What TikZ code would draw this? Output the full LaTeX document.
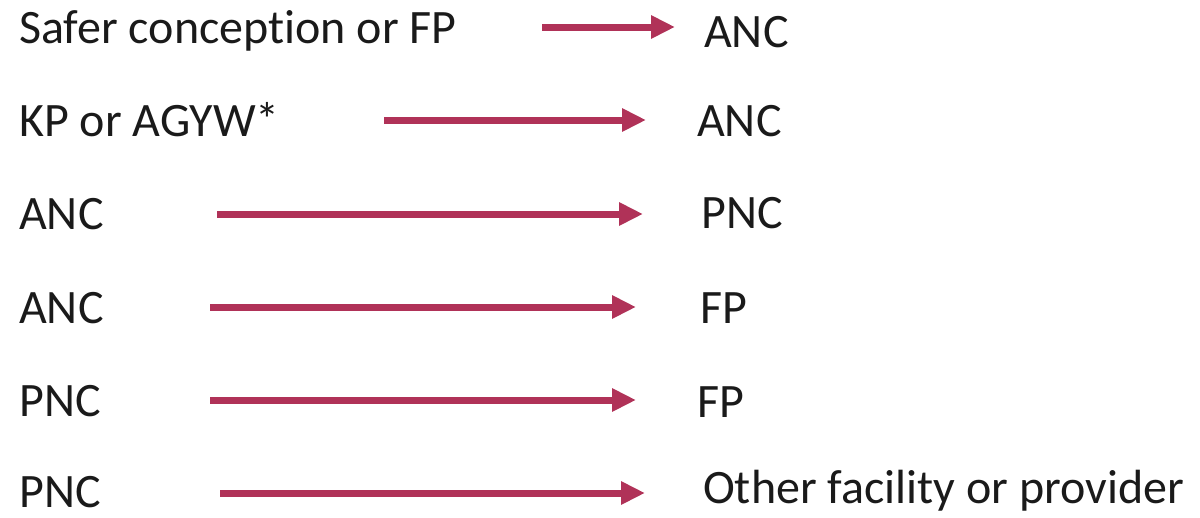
\documentclass[tikz,border=0pt]{standalone}
\usepackage{fontspec}
\setmainfont{Carlito}[Ligatures={NoCommon}]
\usetikzlibrary{arrows.meta}
\definecolor{arrowred}{RGB}{176,50,88}
\definecolor{txt}{RGB}{26,26,26}
\tikzset{
  lbl/.style={anchor=base west, inner sep=0pt, text=txt, font=\fontsize{48}{50}\selectfont},
  flow/.style={draw=arrowred, line width=7pt, -{Triangle[length=24pt,width=22pt]}}
}
\begin{document}
\begin{tikzpicture}[x=1pt,y=-1pt]
\useasboundingbox (0,0) rectangle (1200,517);
% left labels
\node[lbl] (l1) at (19,43) {Safer conception or FP};
\node[lbl] (l2) at (19,136) {KP or AGYW*};
\node[lbl] (l3) at (19,229) {ANC};
\node[lbl] (l4) at (19,323) {ANC};
\node[lbl] (l5) at (19,416) {PNC};
\node[lbl] (l6) at (19,507) {PNC};
% right labels
\node[lbl] (r1) at (704,47) {ANC};
\node[lbl] (r2) at (697,136) {ANC};
\node[lbl] (r3) at (701,228) {PNC};
\node[lbl] (r4) at (700,323) {FP};
\node[lbl] (r5) at (697,417) {FP};
\node[lbl] (r6) at (703,503) {Other facility or provider};
% arrow ends
\coordinate (s1) at (542,27);  \coordinate (e1) at (675,27);
\coordinate (s2) at (384,120); \coordinate (e2) at (646,120);
\coordinate (s3) at (217,214); \coordinate (e3) at (643,214);
\coordinate (s4) at (210,307); \coordinate (e4) at (636,307);
\coordinate (s5) at (210,400); \coordinate (e5) at (636,400);
\coordinate (s6) at (220,493); \coordinate (e6) at (645,493);
\foreach \i in {1,...,6} { \draw[flow] (s\i) -- (e\i); }
\end{tikzpicture}
\end{document}
